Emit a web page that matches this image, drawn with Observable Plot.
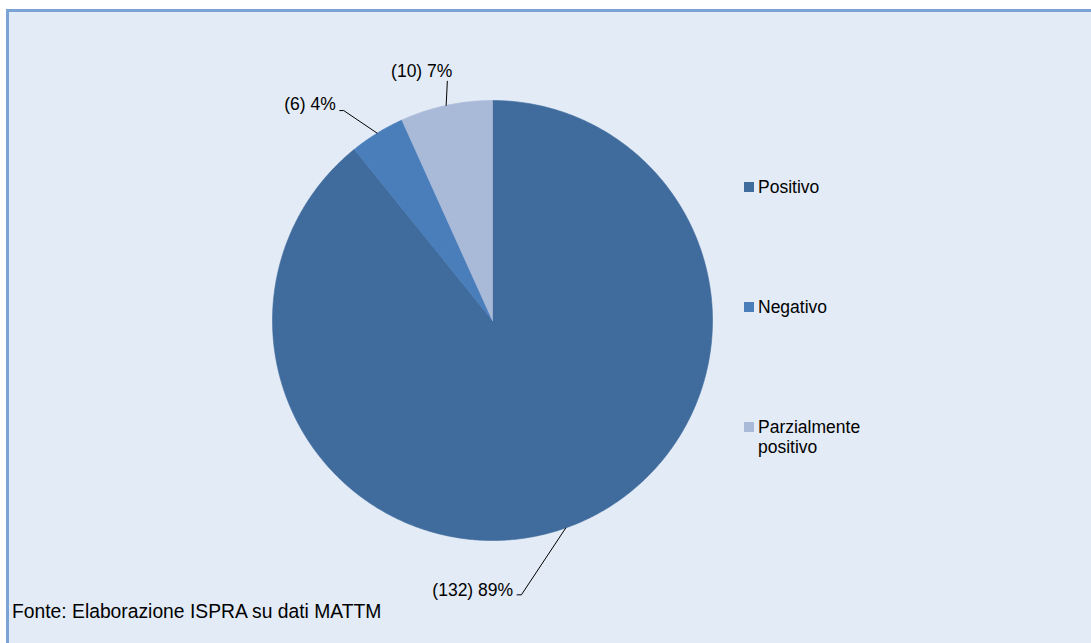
<!DOCTYPE html>
<html>
<head>
<meta charset="utf-8">
<script src="https://cdn.jsdelivr.net/npm/d3@7"></script>
<script src="https://cdn.jsdelivr.net/npm/@observablehq/plot@0.6"></script>
<style>
html, body { margin: 0; padding: 0; background: #ffffff; width: 1091px; height: 643px; overflow: hidden; font-family: "Liberation Sans", Arial, sans-serif; }
#frame { position: absolute; left: 6px; top: 9px; width: 1100px; height: 650px; background: #E3EBF6; border-top: 3px solid #7BA3D6; border-left: 3px solid #7BA3D6; }
#chart { position: absolute; left: 0; top: 0; }
#legend { position: absolute; left: 0; top: 0; }
.lg-item { position: absolute; left: 744px; font-size: 17.5px; line-height: 20px; color: #000; }
.lg-sw { position: absolute; left: 0; width: 10px; height: 10px; }
.lg-tx { position: absolute; left: 14px; white-space: nowrap; }
#caption { position: absolute; left: 12px; top: 602px; font-size: 19.3px; line-height: 1; color: #000; white-space: nowrap; }
</style>
</head>
<body>
<div id="frame"></div>
<div id="chart"></div>
<div id="legend"></div>
<div id="caption">Fonte: Elaborazione ISPRA su dati MATTM</div>
<script>
// ---- data ----
const categories = ["Positivo", "Negativo", "Parzialmente positivo"];
const legendLines = [["Positivo"], ["Negativo"], ["Parzialmente", "positivo"]];
const counts = [132, 6, 10];
const percents = ["89%", "4%", "7%"];

// ---- style / layout ----
const colors = ["#3F6B9D", "#4A7EBB", "#A9B9D8"];
const W = 1091, H = 600, cx = 492, cy = 320, R = 220;
// label leader layout in pixels (screen offsets from the arc mid-point)
const labelLayout = [
  {elbow: [-44.4, 66.9], tail: -4.3, anchor: "end", dx: -4, dy: -4},
  {elbow: [-33.4, -22.6], tail: -4, anchor: "end", dx: -4, dy: -6.4},
  {elbow: [1.2, -24.3], tail: 0, anchor: "end", dx: 5, dy: -9.4}
];
const legendTops = [177, 297, 417];

// ---- geometry from data ----
const arcs = d3.pie().sort(null).value(d => d)(counts);
const slicePolys = arcs.map(a => {
  const pts = [{x: 0, y: 0}];
  const n = Math.max(2, Math.ceil((a.endAngle - a.startAngle) / (Math.PI / 360)));
  for (let k = 0; k <= n; k++) {
    const t = a.startAngle + (a.endAngle - a.startAngle) * k / n;
    pts.push({x: Math.sin(t), y: Math.cos(t)});
  }
  pts.push({x: 0, y: 0});
  return pts;
});

const leaders = arcs.map((a, i) => {
  const m = (a.startAngle + a.endAngle) / 2;
  const L = labelLayout[i];
  const p0 = {x: Math.sin(m), y: Math.cos(m)};
  const p1 = {x: p0.x + L.elbow[0] / R, y: p0.y - L.elbow[1] / R};
  const p2 = {x: p1.x + L.tail / R, y: p1.y};
  return [p0, p1, p2];
});

const marks = [];
slicePolys.forEach((pts, i) => {
  marks.push(Plot.line(pts, {x: "x", y: "y", fill: colors[i], stroke: colors[i], strokeWidth: 0.6, curve: "linear"}));
});
leaders.forEach((pts, i) => {
  marks.push(Plot.line(pts, {x: "x", y: "y", stroke: "#000", strokeWidth: 1, curve: "linear"}));
  const end = pts[pts.length - 1];
  const L = labelLayout[i];
  marks.push(Plot.text([{x: end.x, y: end.y, t: `(${counts[i]}) ${percents[i]}`}], {
    x: "x", y: "y", text: "t", textAnchor: L.anchor, dx: L.dx, dy: L.dy,
    fontSize: 17.5, fill: "#000"
  }));
});

const chart = Plot.plot({
  width: W,
  height: H,
  margin: 0,
  x: {domain: [-cx / R, (W - cx) / R], axis: null},
  y: {domain: [(cy - H) / R, cy / R], axis: null},
  style: {background: "transparent", fontFamily: "'Liberation Sans', Arial, sans-serif", overflow: "visible"},
  marks
});
document.getElementById("chart").appendChild(chart);

// ---- legend ----
const legend = document.getElementById("legend");
categories.forEach((c, i) => {
  const item = document.createElement("div");
  item.className = "lg-item";
  item.style.top = legendTops[i] + "px";
  const sw = document.createElement("div");
  sw.className = "lg-sw";
  sw.style.background = colors[i];
  sw.style.top = "5px";
  const tx = document.createElement("div");
  tx.className = "lg-tx";
  tx.innerHTML = legendLines[i].join("<br>");
  item.appendChild(sw);
  item.appendChild(tx);
  legend.appendChild(item);
});
</script>
</body>
</html>
